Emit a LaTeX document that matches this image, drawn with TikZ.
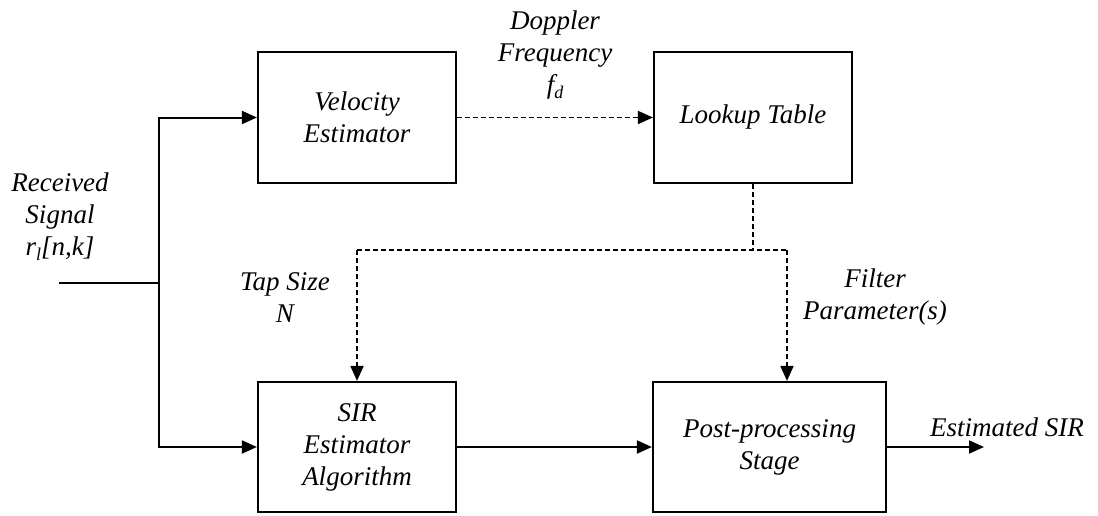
\documentclass[tikz,border=0pt]{standalone}
\usepackage{fontspec}
\setmainfont{Liberation Serif}
\usetikzlibrary{arrows.meta}
\newcommand{\sbs}[1]{\raisebox{-0.4ex}{\fontsize{18}{18}\selectfont #1}}
\begin{document}
\begin{tikzpicture}[x=1pt,y=-1pt,
  every node/.style={font=\fontsize{27}{32}\selectfont\itshape, align=center, inner sep=0pt},
  blk/.style={draw, line width=2.2pt, minimum height=131pt},
  tip/.style={-{Triangle[length=15pt,width=13pt]}},
  con/.style={line width=2pt},
  arr/.style={con, tip},
  dsh/.style={line width=1.8pt, dash pattern=on 5pt off 3pt}]
\useasboundingbox (0,0) rectangle (1098,515);
\node[blk, minimum width=198pt] (vel) at (357,117.5) {Velocity\\Estimator};
\node[blk, minimum width=198pt] (lut) at (753,117.5) {Lookup Table};
\node[blk, minimum width=198pt, minimum height=130pt] (sir) at (357,447) {SIR\\Estimator\\Algorithm};
\node[blk, minimum width=233pt, minimum height=130pt] (post) at (769.5,447) {Post-processing\\Stage};
\node (lblrx) at (60,217) {Received\\Signal\\r\sbs{l}[n,k]};
\node (lbldf) at (555,55) {Doppler\\Frequency\\f\sbs{d}};
\node (lbltap) at (285,298) {Tap Size\\N};
\node (lblfp) at (875,297) {Filter\\Parameter(s)};
\node (lblout) at (1007,427) {Estimated SIR};
\coordinate (in) at (59,283);
\coordinate (j) at (159,283);
\coordinate (out) at (984,447);
\coordinate (lj) at (753,250);
\coordinate (dl) at (357,250);
\coordinate (dr) at (787,250);
\draw[con] (in) -- (j);
\draw[arr] (j) |- (vel.west);
\draw[arr] (j) |- (sir.west);
\draw[arr] (sir.east) -- (post.west);
\draw[arr] (post.east) -- (out);
\draw[dsh, tip] (vel.east) -- (lut.west);
\draw[dsh] (lut.south) -- (lj);
\draw[dsh] (dl) -- (dr);
\draw[dsh, tip] (dl) -- (sir.north);
\draw[dsh, tip] (dr) -- (dr |- post.north);
\end{tikzpicture}
\end{document}
